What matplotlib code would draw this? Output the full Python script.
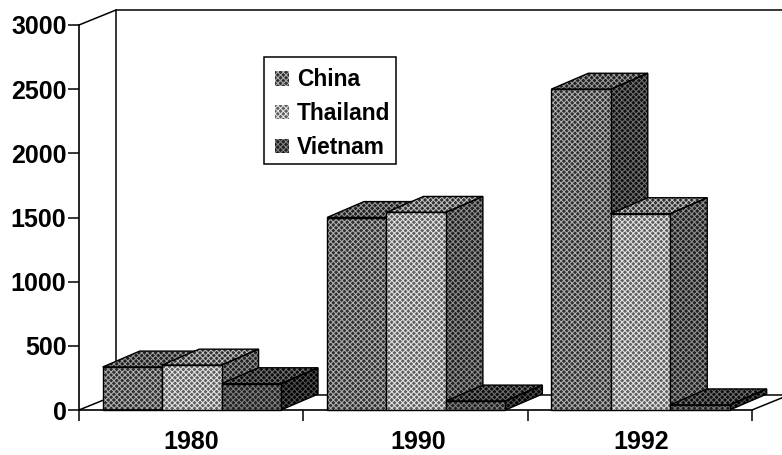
"""Scanned 3-D style bar chart: China, Thailand, Vietnam"""
import matplotlib
matplotlib.use('Agg')
import matplotlib.pyplot as plt
from matplotlib.patches import Polygon, Patch, Rectangle

years = ['1980', '1990', '1992']
countries = ['China', 'Thailand', 'Vietnam']
china = [335, 1500, 2500]
thailand = [350, 1540, 1530]
vietnam = [205, 70, 40]
yticks = [0, 500, 1000, 1500, 2000, 2500, 3000]
year_label_shift = [0.002, 0.014, 0.008]

plt.rcParams['font.family'] = ['Liberation Sans', 'DejaVu Sans']
plt.rcParams['hatch.linewidth'] = 0.75

# depth of the fake 3-D, in data units
DX = 37 / 224.33
DY = 117
BAR_DY = 124
BAR_W = 0.265

# (base colour, dither colour) for front, top and side of each series
tones = {
    'China': [('#303030', '#b0b0b0'), ('#202020', '#9a9a9a'), ('#101010', '#707070')],
    'Thailand': [('#606060', '#e4e4e4'), ('#303030', '#c0c0c0'), ('#202020', '#909090')],
    'Vietnam': [('#202020', '#808080'), ('#0c0c0c', '#707070'), ('#000000', '#505050')],
}

fig = plt.figure(figsize=(7.82, 4.55), dpi=100)
ax = fig.add_axes([79 / 782, 45 / 455, 673 / 782, 385 / 455])
ax.set_xlim(0, 3)
ax.set_ylim(0, 3000)
for s in ['top', 'right']:
    ax.spines[s].set_visible(False)
ax.spines['left'].set_linewidth(1.2)
ax.spines['bottom'].set_linewidth(1.2)


def face(pts, tone, z):
    # dithered fill first, then a black outline on top
    ax.add_patch(Polygon(pts, facecolor=tone[0], edgecolor=tone[1], hatch='xxxxxx',
                         lw=0, zorder=z, clip_on=False))
    ax.add_patch(Polygon(pts, fill=False, edgecolor='black', lw=1.0, zorder=z + 0.1,
                         clip_on=False, joinstyle='miter'))


# back wall and floor
wall_kw = dict(color='black', lw=1.1, clip_on=False, zorder=1)
ax.plot([0, DX, 3.2], [3000, 3000 + DY, 3000 + DY], **wall_kw)
ax.plot([DX, DX], [DY, 3000 + DY], **wall_kw)
ax.plot([0, DX, 3.2], [0, DY, DY], **wall_kw)
ax.plot([3, 3 + DX], [0, DY], **wall_kw)

# bars, left to right so the next front face hides the previous side
z = 2
for i in range(len(years)):
    start = i + 0.503 - 1.5 * BAR_W
    for j, (name, vals) in enumerate(zip(countries, [china, thailand, vietnam])):
        x0 = start + j * BAR_W
        x1 = x0 + BAR_W
        v = vals[i]
        front, top, side = tones[name]
        face([(x0, v), (x0 + DX, v + BAR_DY), (x1 + DX, v + BAR_DY), (x1, v)], top, z)
        face([(x1, 0), (x1 + DX, BAR_DY), (x1 + DX, v + BAR_DY), (x1, v)], side, z)
        face([(x0, 0), (x0, v), (x1, v), (x1, 0)], front, z + 0.5)
        z += 1

ax.set_yticks(yticks)
ax.set_yticklabels([str(t) for t in yticks], fontsize=18, fontweight='bold')
ax.tick_params(axis='y', length=8, width=1.1, pad=1)
ax.set_xticks([0, 1, 2, 3])
ax.set_xticklabels([])
ax.tick_params(axis='x', length=8, width=1.1)
for i, y in enumerate(years):
    ax.text(i + 0.5 + year_label_shift[i], -0.083, y, transform=ax.get_xaxis_transform(),
            ha='center', va='center', fontsize=18, fontweight='bold')

# legend frame drawn separately: the scan has more room above than to the right
fig.add_artist(Rectangle((264 / 782, 1 - 164 / 455), 132 / 782, 107 / 455, transform=fig.transFigure,
                         facecolor='white', edgecolor='black', lw=1.1, zorder=49))
handles = [Patch(facecolor=tones[c][0][0], edgecolor=tones[c][0][1], hatch='xxxxxx', lw=0)
           for c in countries]
leg = fig.legend(handles, countries, loc='upper left', bbox_to_anchor=(264 / 782, 1 - 57 / 455),
                 borderaxespad=0, frameon=False,
                 prop={'weight': 'bold', 'size': 16.4}, handlelength=0.6, handleheight=0.6,
                 handletextpad=0.35, labelspacing=0.47, borderpad=0.5)
leg.set_zorder(50)

plt.savefig('out.png', dpi=100)
